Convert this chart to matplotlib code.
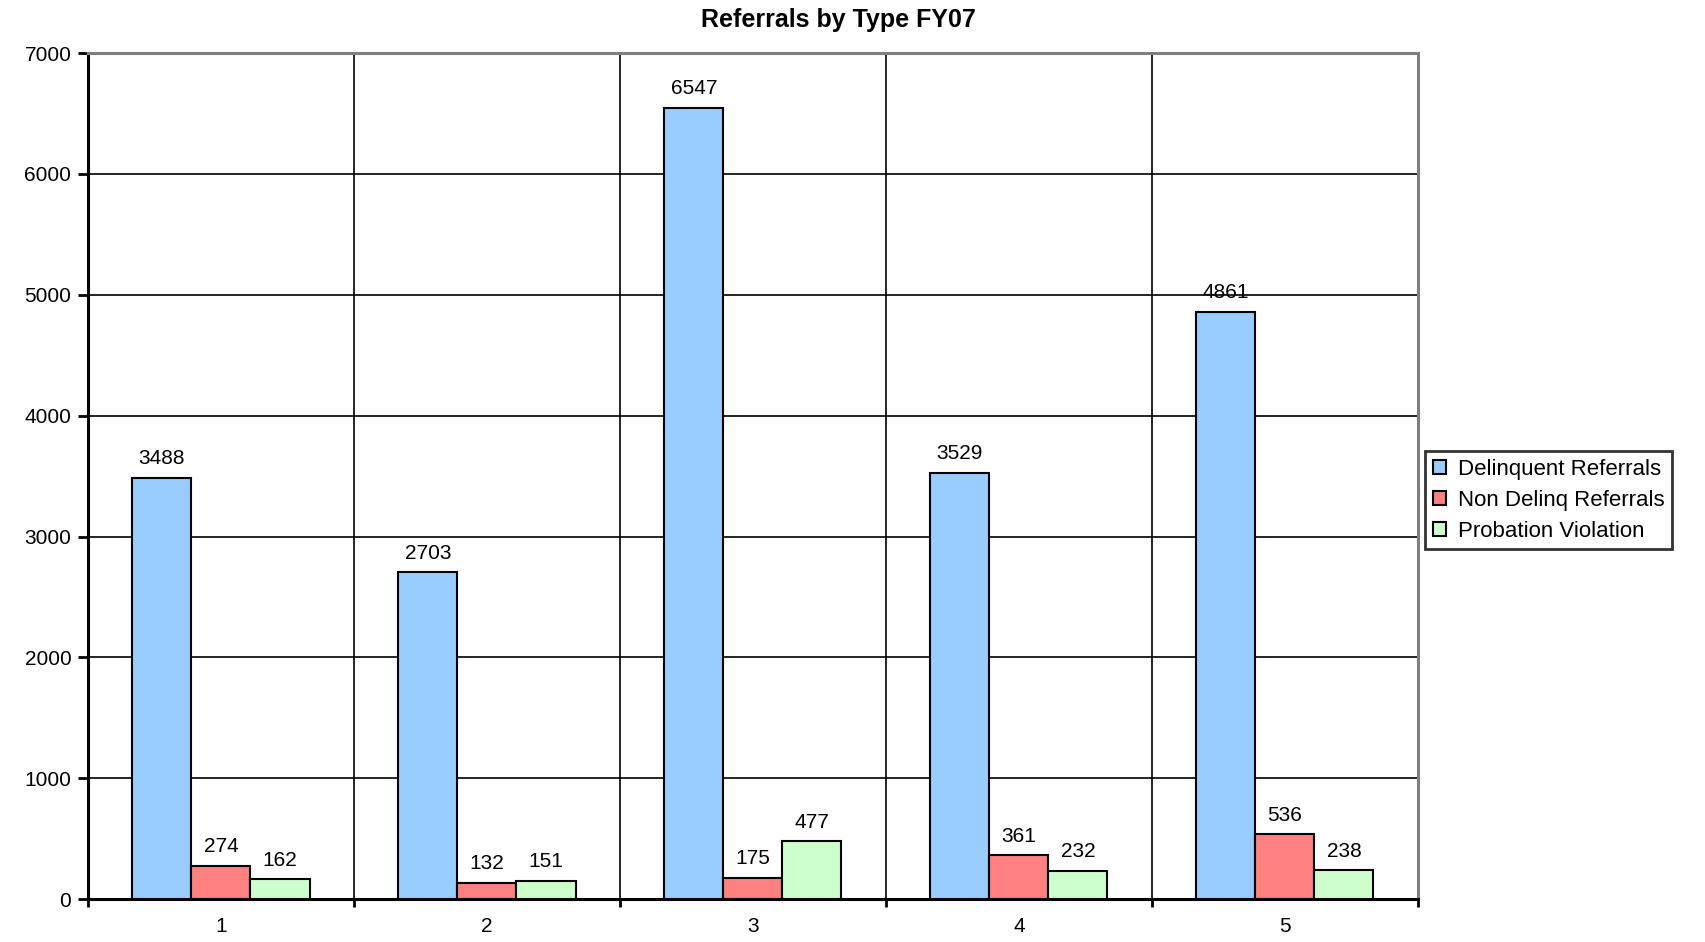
import numpy as np
import matplotlib.pyplot as plt
from matplotlib.ticker import FixedLocator, NullFormatter

plt.rcParams['font.family'] = ['Liberation Sans', 'DejaVu Sans']

categories = ['1', '2', '3', '4', '5']
delinquent = [3488, 2703, 6547, 3529, 4861]
non_delinq = [274, 132, 175, 361, 536]
probation = [162, 151, 477, 232, 238]

series = [
    ('Delinquent Referrals', delinquent, '#99CCFF'),
    ('Non Delinq Referrals', non_delinq, '#FF8080'),
    ('Probation Violation', probation, '#CCFFCC'),
]

fig = plt.figure(figsize=(17.05, 9.42), dpi=100)
ax = fig.add_axes([0.0516, 0.0456, 0.78, 0.898])

x = np.arange(len(categories))
w = 0.222
for i, (name, vals, color) in enumerate(series):
    pos = x + (i - 1) * w
    bars = ax.bar(pos, vals, width=w, color=color, edgecolor='black',
                  linewidth=1.5, label=name, zorder=3)
    for b, v in zip(bars, vals):
        ax.annotate(str(v), (b.get_x() + b.get_width() / 2, v),
                    xytext=(0, 7), textcoords='offset points',
                    ha='center', va='bottom', fontsize=15)

ax.set_xlim(-0.5, len(categories) - 0.5)
ax.set_ylim(0, 7000)
ax.set_yticks(range(0, 7001, 1000))
ax.set_xticks(x)
ax.set_xticklabels(categories, fontsize=15)
ax.xaxis.set_minor_locator(FixedLocator(np.arange(-0.5, len(categories), 1)))
ax.xaxis.set_minor_formatter(NullFormatter())
ax.tick_params(axis='x', which='major', length=0, pad=13)
ax.tick_params(axis='x', which='minor', length=6, width=2)
ax.tick_params(axis='y', labelsize=15, length=7, width=2, pad=5)

ax.grid(axis='y', color='black', linewidth=1.2, zorder=0)
ax.grid(axis='x', which='minor', color='black', linewidth=1.2, zorder=0)

ax.spines['left'].set_linewidth(2.2)
ax.spines['bottom'].set_linewidth(2.2)
ax.spines['top'].set_color('#808080')
ax.spines['top'].set_linewidth(2.2)
ax.spines['right'].set_color('#808080')
ax.spines['right'].set_linewidth(2.2)

fig.text(0.492, 0.979, 'Referrals by Type FY07', ha='center', va='center',
         fontsize=18, fontweight='bold')

leg = fig.legend(loc='center left', bbox_to_anchor=(0.836, 0.469),
                 fontsize=16, frameon=True, fancybox=False, edgecolor='black',
                 handlelength=0.6, handleheight=0.6, handletextpad=0.5,
                 borderpad=0.35, labelspacing=0.45, borderaxespad=0)
leg.get_frame().set_linewidth(2)

fig.savefig('out.png', dpi=100)
